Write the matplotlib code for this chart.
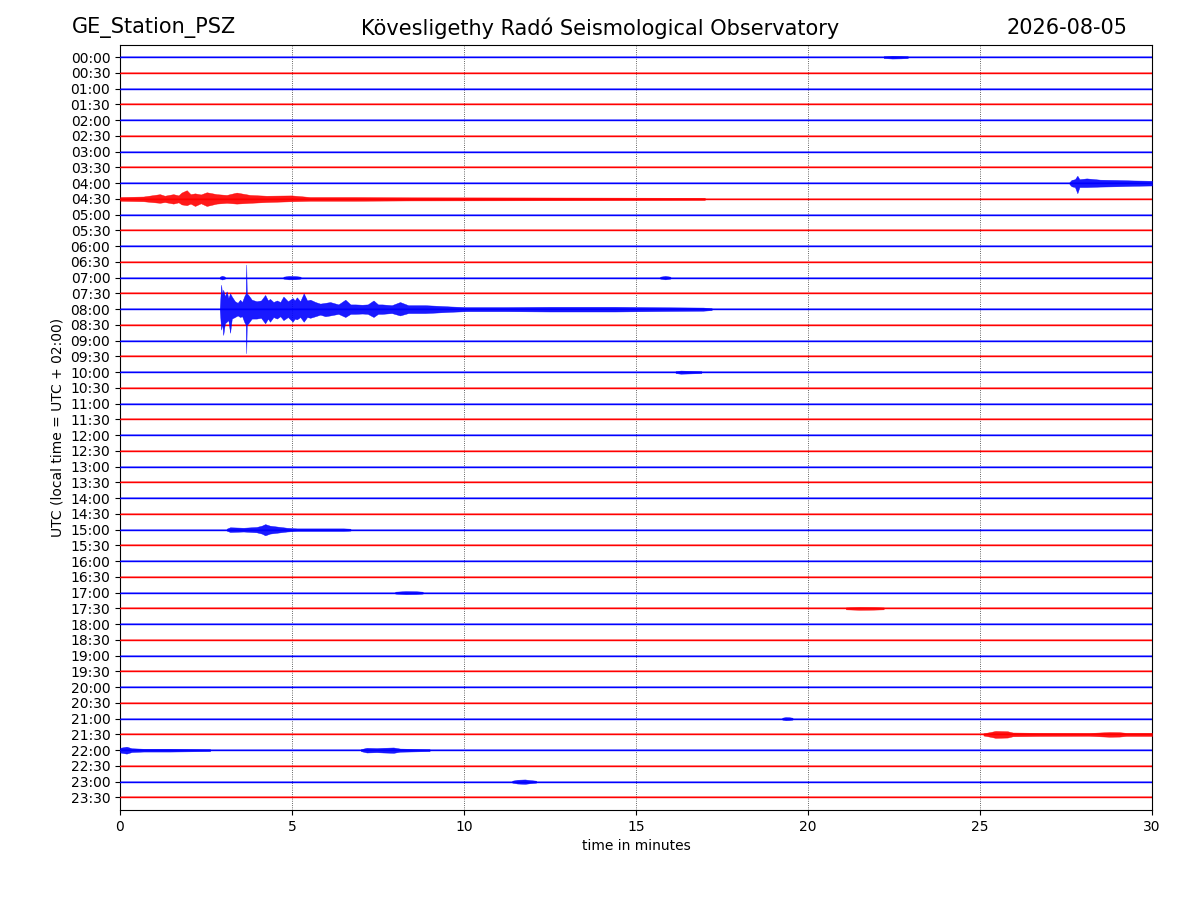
import matplotlib
matplotlib.use("Agg")
import matplotlib.pyplot as plt

# ---------------- data ----------------
trace_labels = [
    "00:00", "00:30", "01:00", "01:30", "02:00", "02:30", "03:00", "03:30",
    "04:00", "04:30", "05:00", "05:30", "06:00", "06:30", "07:00", "07:30",
    "08:00", "08:30", "09:00", "09:30", "10:00", "10:30", "11:00", "11:30",
    "12:00", "12:30", "13:00", "13:30", "14:00", "14:30", "15:00", "15:30",
    "16:00", "16:30", "17:00", "17:30", "18:00", "18:30", "19:00", "19:30",
    "20:00", "20:30", "21:00", "21:30", "22:00", "22:30", "23:00", "23:30",
]
trace_colors = ["blue", "red"]
x_ticks = [0, 5, 10, 15, 20, 25, 30]
minutes_per_line = 30
base_noise = 0.06  # background noise half-width (in trace spacings)

# event envelopes: minute, upper amplitude, lower amplitude
ev_0800_t = [2.90, 2.94, 2.97, 3.00, 3.05, 3.10, 3.15, 3.20, 3.25, 3.34,
             3.42, 3.49, 3.55, 3.61, 3.655, 3.67, 3.685, 3.73, 3.83, 3.97,
             4.10, 4.22, 4.30, 4.36, 4.46, 4.56, 4.66, 4.75, 4.88, 5.02,
             5.08, 5.14, 5.24, 5.34, 5.44, 5.53, 5.68, 5.82, 5.97, 6.11,
             6.35, 6.55, 6.70, 6.84, 7.04, 7.20, 7.37, 7.50, 7.62, 7.90,
             8.14, 8.38, 8.87, 9.16, 9.60, 10.06, 11.2, 12.5, 14.4, 15.8,
             16.95, 17.2]
ev_0800_up = [0.06, 1.55, 0.90, 1.23, 0.80, 1.13, 0.70, 1.00, 0.80, 0.50,
              0.40, 0.60, 0.45, 0.80, 1.00, 2.83, 1.00, 0.90, 0.60, 0.50,
              0.55, 0.90, 0.55, 0.65, 0.45, 0.55, 0.45, 0.80, 0.50, 0.70,
              0.55, 0.75, 0.50, 1.00, 0.55, 0.60, 0.45, 0.35, 0.40, 0.45,
              0.30, 0.60, 0.30, 0.30, 0.28, 0.30, 0.55, 0.30, 0.30, 0.25,
              0.45, 0.25, 0.25, 0.22, 0.17, 0.13, 0.13, 0.15, 0.15, 0.12,
              0.10, 0.06]
ev_0800_dn = [0.06, 1.30, 0.90, 1.64, 0.90, 0.80, 0.70, 1.50, 0.60, 0.50,
              0.40, 0.50, 0.45, 0.80, 1.00, 2.80, 1.00, 0.90, 0.60, 0.60,
              0.55, 0.90, 0.60, 0.80, 0.50, 0.60, 0.45, 0.70, 0.50, 0.80,
              0.60, 0.65, 0.50, 0.80, 0.50, 0.55, 0.45, 0.35, 0.45, 0.40,
              0.30, 0.50, 0.30, 0.30, 0.28, 0.30, 0.50, 0.30, 0.30, 0.25,
              0.40, 0.25, 0.25, 0.22, 0.17, 0.13, 0.13, 0.15, 0.15, 0.12,
              0.10, 0.06]

ev_0430_t = [0.00, 0.68, 1.16, 1.30, 1.55, 1.70, 1.79, 1.94, 2.05, 2.18, 2.35, 2.52,
             2.81, 3.10, 3.39, 3.78, 4.26, 4.99, 5.52, 6.78, 8.43, 12.0, 17.0]
ev_0430_up = [0.12, 0.15, 0.30, 0.20, 0.30, 0.22, 0.40, 0.55, 0.30, 0.35, 0.28, 0.42,
              0.30, 0.25, 0.40, 0.25, 0.20, 0.22, 0.12, 0.12, 0.10, 0.09, 0.07]
ev_0430_dn = [0.12, 0.15, 0.25, 0.20, 0.30, 0.22, 0.35, 0.40, 0.30, 0.45, 0.28, 0.45,
              0.30, 0.25, 0.30, 0.25, 0.20, 0.15, 0.12, 0.12, 0.10, 0.09, 0.07]

ev_0400_t = [27.60, 27.66, 27.76, 27.83, 27.89, 28.10, 28.49, 28.97, 29.46, 30.00]
ev_0400_up = [0.06, 0.20, 0.25, 0.47, 0.25, 0.30, 0.22, 0.20, 0.17, 0.15]
ev_0400_dn = [0.06, 0.20, 0.25, 0.64, 0.25, 0.25, 0.22, 0.20, 0.17, 0.15]

ev_1500_t = [3.10, 3.20, 3.59, 3.97, 4.12, 4.22, 4.36, 4.55, 4.85, 5.14, 6.49, 6.70]
ev_1500_up = [0.06, 0.15, 0.12, 0.17, 0.25, 0.35, 0.25, 0.20, 0.12, 0.08, 0.08, 0.06]
ev_1500_dn = [0.06, 0.15, 0.12, 0.17, 0.25, 0.36, 0.25, 0.20, 0.12, 0.08, 0.08, 0.06]

ev_2200a_t = [0.00, 0.19, 0.34, 0.68, 1.45, 2.62]
ev_2200a_amp = [0.15, 0.22, 0.12, 0.09, 0.09, 0.06]
ev_2200b_t = [7.00, 7.17, 7.46, 7.66, 7.95, 8.14, 9.00]
ev_2200b_amp = [0.06, 0.15, 0.13, 0.15, 0.17, 0.10, 0.06]

ev_2130_t = [25.10, 25.30, 25.45, 25.80, 25.95, 26.69, 28.16, 28.76, 29.05, 29.25, 30.00]
ev_2130_up = [0.07, 0.15, 0.22, 0.20, 0.12, 0.10, 0.09, 0.15, 0.14, 0.10, 0.10]
ev_2130_dn = [0.07, 0.15, 0.22, 0.20, 0.12, 0.10, 0.09, 0.15, 0.14, 0.10, 0.10]

ev_2300_t = [11.40, 11.55, 11.77, 11.92, 12.10]
ev_2300_amp = [0.06, 0.12, 0.14, 0.10, 0.06]

ev_2100_t = [19.25, 19.35, 19.45, 19.55]
ev_2100_amp = [0.06, 0.10, 0.09, 0.06]

ev_1000_t = [16.15, 16.30, 16.60, 16.90]
ev_1000_amp = [0.06, 0.10, 0.08, 0.06]

ev_0700a_t = [2.90, 2.97, 3.05]
ev_0700a_amp = [0.06, 0.12, 0.06]
ev_0700b_t = [4.75, 4.90, 5.10, 5.25]
ev_0700b_amp = [0.06, 0.11, 0.10, 0.06]
ev_0700c_t = [15.70, 15.85, 16.00]
ev_0700c_amp = [0.06, 0.11, 0.06]

ev_0000_t = [22.20, 22.45, 22.70, 22.90]
ev_0000_amp = [0.06, 0.09, 0.08, 0.06]

ev_1700_t = [8.00, 8.30, 8.60, 8.80]
ev_1700_amp = [0.06, 0.10, 0.09, 0.06]

ev_1730_t = [21.10, 21.50, 21.90, 22.20]
ev_1730_amp = [0.06, 0.09, 0.08, 0.06]

events = [
    ("08:00", ev_0800_t, ev_0800_up, ev_0800_dn),
    ("04:30", ev_0430_t, ev_0430_up, ev_0430_dn),
    ("04:00", ev_0400_t, ev_0400_up, ev_0400_dn),
    ("15:00", ev_1500_t, ev_1500_up, ev_1500_dn),
    ("22:00", ev_2200a_t, ev_2200a_amp, ev_2200a_amp),
    ("22:00", ev_2200b_t, ev_2200b_amp, ev_2200b_amp),
    ("21:30", ev_2130_t, ev_2130_up, ev_2130_dn),
    ("23:00", ev_2300_t, ev_2300_amp, ev_2300_amp),
    ("21:00", ev_2100_t, ev_2100_amp, ev_2100_amp),
    ("10:00", ev_1000_t, ev_1000_amp, ev_1000_amp),
    ("07:00", ev_0700a_t, ev_0700a_amp, ev_0700a_amp),
    ("07:00", ev_0700b_t, ev_0700b_amp, ev_0700b_amp),
    ("07:00", ev_0700c_t, ev_0700c_amp, ev_0700c_amp),
    ("00:00", ev_0000_t, ev_0000_amp, ev_0000_amp),
    ("17:00", ev_1700_t, ev_1700_amp, ev_1700_amp),
    ("17:30", ev_1730_t, ev_1730_amp, ev_1730_amp),
]

# ---------------- plot ----------------
fig = plt.figure(figsize=(12, 9), dpi=100)
ax = fig.add_axes([0.1, 0.1, 0.86, 0.85])

for i, lab in enumerate(trace_labels):
    c = trace_colors[i % 2]
    ax.fill_between([0, minutes_per_line], [i - base_noise] * 2, [i + base_noise] * 2,
                    color=c, alpha=0.4, lw=0, zorder=2)
    ax.plot([0, minutes_per_line], [i, i], color=c, lw=1.0, zorder=3)

for lab, t, up, dn in events:
    i = trace_labels.index(lab)
    c = trace_colors[i % 2]
    upper = [i - a for a in up]
    lower = [i + a for a in dn]
    ax.fill_between(t, upper, lower, color=c, lw=0.3, edgecolor=c, alpha=0.9, zorder=4)

ax.set_xlim(0, minutes_per_line)
ax.set_ylim(47.8, -0.77)
ax.set_xticks(x_ticks)
ax.set_yticks(range(len(trace_labels)))
ax.set_yticklabels(trace_labels)
ax.grid(axis="x", linestyle=":", color="k", lw=0.6, alpha=0.8, zorder=1)
ax.set_xlabel("time in minutes")
ax.set_ylabel("UTC (local time = UTC + 02:00)")

fig.text(0.06, 0.969, "GE_Station_PSZ", fontsize=15, ha="left", va="center")
fig.text(0.5, 0.969, "Kövesligethy Radó Seismological Observatory", fontsize=15,
         ha="center", va="center")
fig.text(0.94, 0.969, "2026-08-05", fontsize=15, ha="right", va="center")

fig.savefig("out.png", dpi=100)
